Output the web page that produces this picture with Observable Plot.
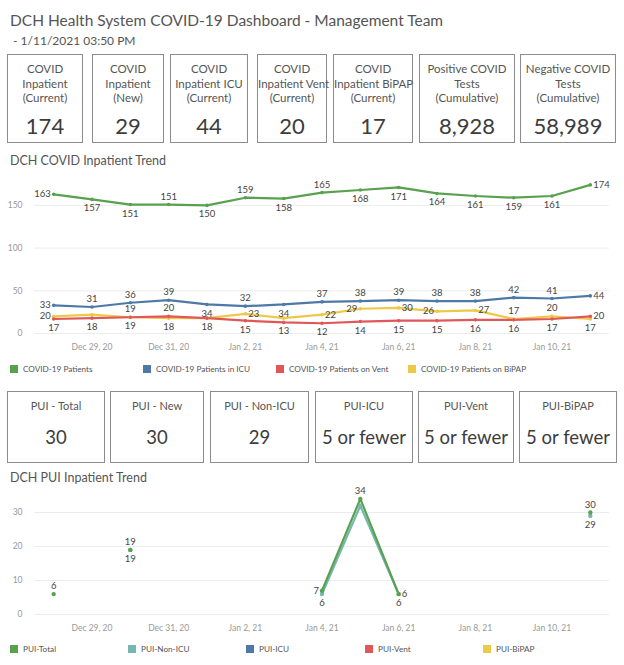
<!DOCTYPE html>
<html>
<head>
<meta charset="utf-8">
<script src="https://cdn.jsdelivr.net/npm/d3@7"></script>
<script src="https://cdn.jsdelivr.net/npm/@observablehq/plot@0.6"></script>
<style>
  body { margin:0; background:#fff; font-family:Lato,"Noto Sans",sans-serif; }
  #root { position:relative; width:624px; height:665px; overflow:hidden; }
  .abs { position:absolute; }
  .title { left:10px; top:11px; font-size:15.5px; color:#555; white-space:nowrap; }
  .subtitle { left:10px; top:33px; font-size:12px; color:#555; white-space:nowrap; }
  .tile { position:absolute; box-sizing:border-box; border:1.5px solid #8c8c8c; background:#fff; text-align:center; color:#555; }
  .tile .lab { font-size:11.5px; line-height:14.5px; white-space:nowrap; }
  .tile .val { position:absolute; left:0; right:0; color:#3c3c3c; white-space:nowrap; font-weight:400; }
  .ctitle { left:10px; font-size:12.5px; color:#555; white-space:nowrap; }
  .legend { position:absolute; font-size:8.2px; color:#555; white-space:nowrap; display:flex; align-items:center; }
  .legend span.sw { display:inline-block; width:8px; height:8px; margin-right:5px; }
</style>
</head>
<body>
<div id="root"></div>
<script>
// ---------- data ----------
const dates = ["2020-12-28","2020-12-29","2020-12-30","2020-12-31","2021-01-01","2021-01-02","2021-01-03","2021-01-04","2021-01-05","2021-01-06","2021-01-07","2021-01-08","2021-01-09","2021-01-10","2021-01-11"];
const covidPatients = [163,157,151,151,150,159,158,165,168,171,164,161,159,161,174];
const icuPatients   = [33,31,36,39,34,32,34,37,38,39,38,38,42,41,44];
const ventPatients  = [17,18,19,20,18,15,13,12,14,15,15,16,16,17,20];
const bipapPatients = [20,22,19,18,18,23,18,22,29,30,26,27,17,20,17];

const puiTotal  = [6,null,19,null,null,null,null,7,34,6,null,null,null,null,30];
const puiNonIcu = [null,null,19,null,null,null,null,6,32,6,null,null,null,null,29];

const kpiLabels = [["COVID","Inpatient","(Current)"],["COVID","Inpatient","(New)"],["COVID","Inpatient ICU","(Current)"],["COVID","Inpatient Vent","(Current)"],["COVID","Inpatient BiPAP","(Current)"],["Positive COVID","Tests","(Cumulative)"],["Negative COVID","Tests","(Cumulative)"]];
const kpiValues = ["174","29","44","20","17","8,928","58,989"];

const puiLabels = ["PUI - Total","PUI - New","PUI - Non-ICU","PUI-ICU","PUI-Vent","PUI-BiPAP"];
const puiValues = ["30","30","29","5 or fewer","5 or fewer","5 or fewer"];

const covidSeries = ["COVID-19 Patients","COVID-19 Patients in ICU","COVID-19 Patients on Vent","COVID-19 Patients on BiPAP"];
const puiSeries = ["PUI-Total","PUI-Non-ICU","PUI-ICU","PUI-Vent","PUI-BiPAP"];
const xTicks = ["2020-12-29","2020-12-31","2021-01-02","2021-01-04","2021-01-06","2021-01-08","2021-01-10"];
const yTicks1 = [0,50,100,150];
const yTicks2 = [0,10,20,30];

// ---------- styling / layout config ----------
const FONT = "Lato, Noto Sans, sans-serif";
const GREEN="#59a14f", BLUE="#4e79a7", RED="#e15759", YELLOW="#edc948", TEAL="#76b7b2";
const covidColors = [GREEN,BLUE,RED,YELLOW];
const puiColors = [GREEN,TEAL,BLUE,RED,YELLOW];
// label placement per point: t=top b=bottom l=left r=right n=none
const covidLabelPos = {
  "COVID-19 Patients":        "lbbtbtbtbbbbbbr",
  "COVID-19 Patients in ICU": "ltttbtbtttttttr",
  "COVID-19 Patients on Vent":"bbbtbbbbbbbbbbr",
  "COVID-19 Patients on BiPAP":"lntbnrnrlrlrttb"
};
const puiLabelPos = {
  "PUI-Total":   "tntnnnnltrnnnnt",
  "PUI-Non-ICU": "nnbnnnnbnbnnnnb"
};

const root = document.getElementById("root");
function el(tag, cls, css, html){ const e=document.createElement(tag); if(cls) e.className=cls; if(css) e.style.cssText=css; if(html!=null) e.innerHTML=html; root.appendChild(e); return e; }

el("div","abs title",null,"DCH Health System COVID-19 Dashboard - Management Team");
el("div","abs subtitle",null,"&nbsp;- 1/11/2021 03:50 PM");

const kpiBoxes = [[7,83],[92,164],[170,248],[257,327],[333,413],[419,515],[520,616]];
kpiLabels.forEach((lab,i)=>{
  const [x0,x1]=kpiBoxes[i];
  const t=el("div","tile",`left:${x0}px;top:54px;width:${x1-x0}px;height:89px;`);
  t.innerHTML = `<div class="lab" style="padding-top:7px">${lab.join("<br>")}</div><div class="val" style="top:58px;font-size:22px;line-height:26px">${kpiValues[i]}</div>`;
});

el("div","abs ctitle","top:153px;","DCH COVID Inpatient Trend");

const parse = d3.utcParse("%Y-%m-%d");
const D = dates.map(parse);
const xDomain = [d3.utcHour.offset(D[0],-12), d3.utcHour.offset(D[D.length-1],12)];
const fmt = d3.utcFormat("%b %-d, %y");

function buildRows(seriesNames, arrays){
  const rows=[];
  seriesNames.forEach((s,k)=>{ if(!arrays[k]) return; arrays[k].forEach((v,i)=>rows.push({series:s, date:D[i], value:v, i})); });
  return rows;
}
function labelMarks(rows, posMap, fs){
  const withPos = rows.filter(r=>r.value!=null && posMap[r.series]).map(r=>({...r,pos:posMap[r.series][r.i]}));
  const common = {x:"date", y:"value", text:d=>String(d.value), fill:"#444", fontSize:fs, fontFamily:FONT};
  return [
    Plot.text(withPos.filter(d=>d.pos==="t"), {...common, dy:-8}),
    Plot.text(withPos.filter(d=>d.pos==="b"), {...common, dy:9}),
    Plot.text(withPos.filter(d=>d.pos==="l"), {...common, dx:-3, textAnchor:"end"}),
    Plot.text(withPos.filter(d=>d.pos==="r"), {...common, dx:3, textAnchor:"start"})
  ];
}

// ---------- chart 1 ----------
const rows1 = buildRows(covidSeries,[covidPatients,icuPatients,ventPatients,bipapPatients]);
const drawOrder1 = ["COVID-19 Patients","COVID-19 Patients in ICU","COVID-19 Patients on BiPAP","COVID-19 Patients on Vent"];
const chart1 = Plot.plot({
  width:624, height:190,
  marginLeft:34, marginRight:15, marginTop:5, marginBottom:27,
  style:{fontFamily:FONT, fontSize:"8.5px", color:"#999", background:"transparent"},
  x:{type:"utc", domain:xDomain},
  y:{domain:[0,185]},
  marks:[
    Plot.gridY(yTicks1,{stroke:"#ececec", strokeOpacity:1}),
    Plot.axisY(yTicks1,{tickSize:0, tickPadding:12, label:null, fill:"#999"}),
    Plot.axisX(xTicks.map(parse),{tickSize:0, tickPadding:10, tickFormat:fmt, label:null, fill:"#999"}),
    ...drawOrder1.map(s=>Plot.line(rows1.filter(r=>r.series===s),{x:"date",y:"value",stroke:covidColors[covidSeries.indexOf(s)],strokeWidth:2.2})),
    ...drawOrder1.map(s=>Plot.dot(rows1.filter(r=>r.series===s),{x:"date",y:"value",fill:covidColors[covidSeries.indexOf(s)],r:1.8,stroke:"none"})),
    ...labelMarks(rows1, covidLabelPos, 9.5)
  ]
});
chart1.style.position="absolute"; chart1.style.left="0px"; chart1.style.top="170px";
root.appendChild(chart1);

const leg1 = [10,143,276,408];
covidSeries.forEach((s,i)=>{
  const l=el("div","legend",`left:${leg1[i]}px;top:364px;`);
  l.innerHTML=`<span class="sw" style="background:${covidColors[i]}"></span>${s}`;
});

// ---------- PUI tiles ----------
const puiBoxes = [[7,105],[110,204],[210,309],[315,413],[418,514],[519,617]];
puiLabels.forEach((lab,i)=>{
  const [x0,x1]=puiBoxes[i];
  const t=el("div","tile",`left:${x0}px;top:391px;width:${x1-x0}px;height:72px;`);
  t.innerHTML=`<div class="lab" style="padding-top:7px;font-size:11px">${lab}</div><div class="val" style="top:33px;font-size:18.5px;line-height:24px">${puiValues[i]}</div>`;
});

el("div","abs ctitle","top:470px;","DCH PUI Inpatient Trend");

// ---------- chart 2 ----------
const rows2 = buildRows(puiSeries,[puiTotal,puiNonIcu]);
const drawOrder2 = ["PUI-Non-ICU","PUI-Total"];
const chart2 = Plot.plot({
  width:624, height:156,
  marginLeft:34, marginRight:15, marginTop:11, marginBottom:26,
  style:{fontFamily:FONT, fontSize:"8.5px", color:"#999", background:"transparent"},
  x:{type:"utc", domain:xDomain},
  y:{domain:[0,35]},
  marks:[
    Plot.gridY(yTicks2,{stroke:"#ececec", strokeOpacity:1}),
    Plot.axisY(yTicks2,{tickSize:0, tickPadding:12, label:null, fill:"#999"}),
    Plot.axisX(xTicks.map(parse),{tickSize:0, tickPadding:10, tickFormat:fmt, label:null, fill:"#999"}),
    ...drawOrder2.map(s=>Plot.line(rows2.filter(r=>r.series===s),{x:"date",y:"value",stroke:puiColors[puiSeries.indexOf(s)],strokeWidth:2.2})),
    ...drawOrder2.map(s=>Plot.dot(rows2.filter(r=>r.series===s && r.value!=null),{x:"date",y:"value",fill:puiColors[puiSeries.indexOf(s)],r:2.2,stroke:"none"})),
    ...labelMarks(rows2, puiLabelPos, 9.5)
  ]
});
chart2.style.position="absolute"; chart2.style.left="0px"; chart2.style.top="484px";
root.appendChild(chart2);

const leg2 = [10,128,246,365,483];
puiSeries.forEach((s,i)=>{
  const l=el("div","legend",`left:${leg2[i]}px;top:644px;`);
  l.innerHTML=`<span class="sw" style="background:${puiColors[i]}"></span>${s}`;
});
</script>
</body>
</html>
